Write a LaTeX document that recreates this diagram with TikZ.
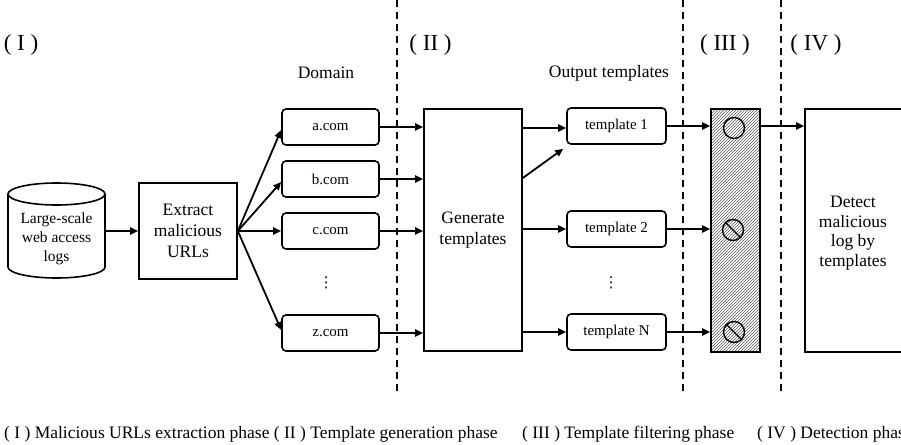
\documentclass[tikz,border=0pt]{standalone}
\usepackage{fontspec}
\setmainfont{Liberation Serif}
\newfontfamily\dotsfont{DejaVu Sans}
\usetikzlibrary{arrows.meta,patterns}
\begin{document}
\begin{tikzpicture}[x=1pt,y=-1pt,
  ln/.style={line width=1.6pt},
  arr/.style={line width=1.8pt,-{Triangle[length=8pt,width=7pt]}},
  box/.style={draw,line width=1.6pt,align=center,inner sep=0pt,font=\fontsize{17.5}{21}\selectfont},
  rbox/.style={box,rounded corners=4pt,minimum width=97pt,minimum height=36pt,font=\fontsize{15}{18}\selectfont},
  lbl/.style={inner sep=0pt,font=\fontsize{17.5}{21}\selectfont},
  vdot/.style={inner sep=0pt,font=\dotsfont\fontsize{15}{17}\selectfont},
  phase/.style={inner sep=0pt,anchor=base,font=\fontsize{23}{27}\selectfont},
  sep/.style={line width=1.6pt,dash pattern=on 7pt off 5pt},
  mark circle/.style={draw,circle,line width=1.4pt,minimum size=21pt,inner sep=0pt}]
\useasboundingbox (0,0) rectangle (901,444);

% phase separators
\draw[sep] (397,0) -- (397,395);
\draw[sep] (683,0) -- (683,395);
\draw[sep] (781,0) -- (781,395);

% phase numbers
\node[phase] (p1) at (21,50) {( I )};
\node[phase] (p2) at (430.5,50) {( II )};
\node[phase] (p3) at (725,50) {( III )};
\node[phase] (p4) at (816,50) {( IV )};

% log database cylinder
\draw[ln] (8,194) -- (8,267) arc[start angle=180,end angle=360,x radius=48.5pt,y radius=11pt] -- (105,194);
\draw[ln] (56.5,194) ellipse [x radius=48.5pt,y radius=11pt];
\node[inner sep=0pt,align=center,font=\fontsize{15.5}{19}\selectfont] (db) at (56.5,239) {Large-scale\\web access\\logs};
\coordinate (dbout) at (105,231);

% URL extraction
\node[box,minimum width=98pt,minimum height=96pt] (ext) at (188,231) {Extract\\malicious\\URLs};

% domains
\node[lbl] (domlbl) at (326,73) {Domain};
\node[rbox] (da) at (330.5,127) {a.com};
\node[rbox] (db2) at (330.5,179) {b.com};
\node[rbox] (dc) at (330.5,231) {c.com};
\node[vdot] (ddots) at (326,283) {⋮};
\node[rbox] (dz) at (330.5,333) {z.com};

% template generation
\node[box,minimum width=98pt,minimum height=242pt] (gen) at (473,230) {Generate\\templates};

% output templates
\node[lbl] (tlbl) at (609,73) {Output templates};
\node[rbox,minimum width=99pt] (t1) at (616.5,126) {template 1};
\node[rbox,minimum width=99pt] (t2) at (616.5,229) {template 2};
\node[vdot] (tdots) at (611,283) {⋮};
\node[rbox,minimum width=99pt] (tn) at (616.5,332) {template N};

% filter
\node[draw,line width=1.6pt,fill=gray!30,pattern=north east lines,pattern color=gray!70!black,
      minimum width=49pt,minimum height=243pt,inner sep=0pt] (flt) at (735.5,230.5) {};
\node[mark circle] (c1) at (734,128) {};
\node[mark circle] (c2) at (733,230) {};
\node[mark circle] (c3) at (734,332) {};
\draw[line width=1.4pt] (c2.north west) -- (c2.south east);
\draw[line width=1.4pt] (c3.north west) -- (c3.south east);

% detection
\node[box,minimum width=98pt,minimum height=243pt] (det) at (854,230.5) {};
\node[inner sep=0pt,align=center,font=\fontsize{17.5}{19.5}\selectfont] (dettxt) at (853,233) {Detect\\malicious\\log by\\templates};

% connectors
\draw[arr] (dbout) -- (ext.west |- dbout);
\draw[arr] (ext.east) -- ([yshift=-3pt]da.west);
\draw[arr] (ext.east) -- ([yshift=-3pt]db2.west);
\draw[arr] (ext.east) -- (dc.west);
\draw[arr] (ext.east) -- ([yshift=3pt]dz.west);
\foreach \d in {da,db2,dc,dz}
  \draw[arr] (\d.east) -- (\d.east -| gen.west);
\draw[arr] ([yshift=-2pt]t1.west -| gen.east) -- ([yshift=-2pt]t1.west);
\draw[arr] ([yshift=52pt]gen.east) -- ([shift={(-3pt,-4pt)}]t1.south west);
\draw[arr] (t2.west -| gen.east) -- (t2.west);
\draw[arr] (tn.west -| gen.east) -- (tn.west);
\foreach \t in {t1,t2,tn}
  \draw[arr] (\t.east) -- (\t.east -| flt.west);
\draw[arr] (t1.east -| flt.east) -- (t1.east -| det.west);

% phase captions
\node[lbl,anchor=base west] (cap1) at (4,438) {( I ) Malicious URLs extraction phase ( II ) Template generation phase};
\node[lbl,anchor=base west] (cap3) at (522,438) {( III ) Template filtering phase};
\node[lbl,anchor=base west] (cap4) at (757,438) {( IV ) Detection phase};
\end{tikzpicture}
\end{document}
